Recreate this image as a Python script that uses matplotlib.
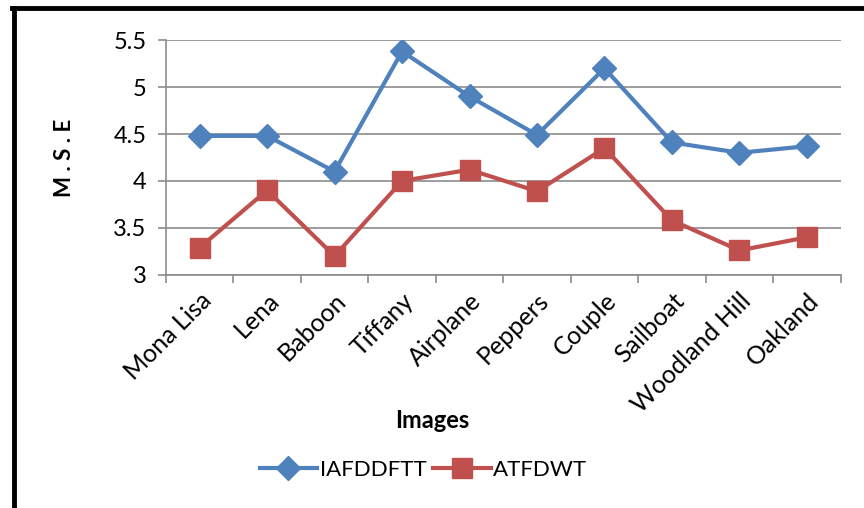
import numpy as np
import matplotlib
matplotlib.use('Agg')
import matplotlib.pyplot as plt
from matplotlib.lines import Line2D

images = ['Mona Lisa', 'Lena', 'Baboon', 'Tiffany', 'Airplane', 'Peppers',
          'Couple', 'Sailboat', 'Woodland Hill', 'Oakland']
iafddftt = [4.48, 4.48, 4.10, 5.38, 4.90, 4.49, 5.20, 4.41, 4.30, 4.37]
atfdwt = [3.29, 3.90, 3.20, 4.00, 4.12, 3.89, 4.35, 3.58, 3.26, 3.40]

plt.rcParams['font.family'] = ['Lato', 'DejaVu Sans']

fig = plt.figure(figsize=(8.64, 5.08), dpi=100)
ax = fig.add_axes([0.192, 0.459, 0.781, 0.462])

x = np.arange(len(images))
ax.plot(x, iafddftt, color='#4F81BD', lw=3, marker='D', markersize=12, label='IAFDDFTT')
ax.plot(x, atfdwt, color='#C0504D', lw=3, marker='s', markersize=14, label='ATFDWT')

ax.set_xlim(-0.5, len(images) - 0.5)
ax.set_ylim(3, 5.5)
ax.set_yticks([3, 3.5, 4, 4.5, 5, 5.5])
ax.set_yticklabels(['3', '3.5', '4', '4.5', '5', '5.5'])
ax.yaxis.grid(True, color='#8c8c8c', lw=1.2)
ax.set_axisbelow(True)

ax.set_xticks(x)
ax.set_xticklabels(images, rotation=45, ha='right', rotation_mode='anchor')
ax.set_xticks(np.arange(-0.5, len(images)), minor=True)
ax.tick_params(axis='x', which='major', length=0, pad=10, labelsize=18)
ax.tick_params(axis='x', which='minor', length=6, color='#8c8c8c', width=1.2)
ax.tick_params(axis='y', length=6, color='#8c8c8c', width=1.2, labelsize=17, pad=8)

for s in ['top', 'right']:
    ax.spines[s].set_visible(False)
for s in ['left', 'bottom']:
    ax.spines[s].set_color('#8c8c8c')
    ax.spines[s].set_linewidth(1.2)

ax.set_ylabel('M . S . E', fontsize=16, fontweight='bold')
ax.yaxis.set_label_coords(-0.135, 0.5)
ax.set_xlabel('Images', fontsize=17, fontweight='bold')
ax.xaxis.set_label_coords(0.394, -0.57)

fig.legend(loc='center', bbox_to_anchor=(0.49, 0.075), ncol=2, frameon=False,
           fontsize=16, handlelength=2.6, columnspacing=0.3, handletextpad=0.1)

# black frame on the left and top
fig.add_artist(Line2D([0.016, 0.016], [0.0, 0.984], color='black', lw=3.5))
fig.add_artist(Line2D([0.014, 1.0], [0.984, 0.984], color='black', lw=3.5))

fig.savefig('out.png')
